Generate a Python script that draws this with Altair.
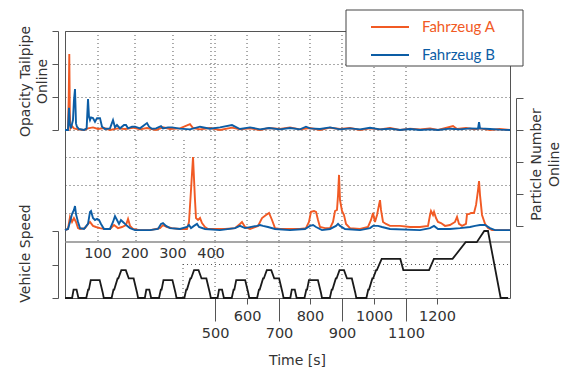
import altair as alt
import pandas as pd

ORANGE = "#f15a24"
BLUE = "#0c5da5"
series_names = ["Fahrzeug A", "Fahrzeug B"]

# ---- time axis labels (as printed in the reference) ----
upper_tick_labels = ["100", "200", "300", "400"]
upper_tick_t = [88.5, 187.7, 289.5, 391.4]
lower_tick_labels = ["500", "600", "700", "800", "900", "1000", "1100", "1200"]
lower_tick_t = [402.2, 488.0, 573.7, 656.8, 742.6, 828.4, 914.2, 997.3]
speed_grid_start_t = [316.4]
mid_grid_extra_t = [88.5, 190.4, 319.0]

opacity_ticks = [0, 1, 2, 3]
particle_grid = [1, 2, 3]
particle_axis_ticks = [0, 1, 2, 3, 4]
speed_ticks = [0, 60, 120]
speed_grid_level = [60]

# ---- vehicle speed [km/h] ----
speed_t = [0, 19, 23, 31, 36, 57, 62, 64, 69, 93, 101, 104, 125, 130, 132, 141, 143, 151, 163, 171, 184, 193, 196,
           214, 218, 226, 231, 252, 257, 259, 264, 288, 296, 299, 320, 325, 327, 336, 338, 346, 358, 366, 379, 388, 391,
           409, 413, 421, 426, 447, 452, 454, 459, 483, 491, 494, 515, 520, 522, 531, 533, 541, 553, 561, 574, 583, 586,
           604, 608, 616, 621, 642, 647, 649, 654, 678, 686, 689, 710, 715, 717, 726, 728, 736, 748, 756, 769, 778, 781,
           808, 813, 815, 824, 826, 834, 836, 849, 899, 907, 976, 989, 1039, 1074, 1104, 1124, 1134, 1168, 1188]
speed_v = [0, 0, 15, 15, 0, 0, 15, 15, 32, 32, 10, 0, 0, 15, 15, 35, 35, 50, 50, 35, 35, 10, 0,
           0, 15, 15, 0, 0, 15, 15, 32, 32, 10, 0, 0, 15, 15, 35, 35, 50, 50, 35, 35, 10, 0,
           0, 15, 15, 0, 0, 15, 15, 32, 32, 10, 0, 0, 15, 15, 35, 35, 50, 50, 35, 35, 10, 0,
           0, 15, 15, 0, 0, 15, 15, 32, 32, 10, 0, 0, 15, 15, 35, 35, 50, 50, 35, 35, 10, 0,
           0, 15, 15, 35, 35, 50, 50, 70, 70, 50, 50, 70, 70, 100, 100, 120, 120, 0, 0]

# ---- opacity tailpipe online ----
opa_a_t = [0, 8, 10, 11.5, 13, 14.5, 18.8, 24, 34.9, 51, 61.7, 75, 88.5, 104.6, 120.6, 142, 160.9, 182.3, 201, 219.8,
           244, 262.7, 281.5, 308.3, 335, 343.2, 362, 388.7, 415.5, 447.7, 469, 496, 522.8, 547, 576.4, 603.2, 630,
           656.8, 683.6, 710.5, 737.3, 764, 791, 817.7, 844.5, 871.3, 898, 925, 951.8, 978.6, 1000, 1040.2, 1051,
           1075, 1099.2, 1112.6, 1139.4, 1166, 1193]
opa_a_v = [0, 0, 1.0, 2.3, 0.5, 0.05, 0.12, 0.05, 0.02, 0.0, 0.05, 0.08, 0.03, 0.06, 0.0, 0.05, 0.03, 0.07, 0.02, 0.06,
           0.0, 0.08, 0.03, 0.05, 0.18, 0.06, 0.02, 0.06, 0.0, 0.07, 0.02, 0.05, 0.0, 0.06, 0.03, 0.08, 0.02,
           0.06, 0.0, 0.07, 0.03, 0.06, 0.0, 0.05, 0.02, 0.06, 0.0, 0.04, 0.02, 0.05, 0.0, 0.12, 0.03,
           0.06, 0.02, 0.05, 0.0, 0.03, 0.0]
opa_b_t = [0, 8, 10.7, 12.5, 16, 21.4, 24, 26.8, 29.5, 32, 37.5, 51, 58, 61.7, 64.3, 67, 69.7, 75, 80.4, 85.8, 93.8,
           99.2, 107, 120.6, 128.7, 134, 139.4, 147.5, 158.2, 163.5, 169, 179.6, 187.7, 201, 219.8, 225.2, 233.2,
           244, 257.4, 262.7, 276, 286.9, 308.3, 335, 362, 388.7, 415.5, 447.7, 469, 496, 522.8, 547, 576.4,
           603.2, 630, 646, 656.8, 683.6, 710.5, 737.3, 764, 791, 817.7, 844.5, 871.3, 898, 925, 951.8, 978.6,
           1000, 1032, 1059, 1085.8, 1107.3, 1110, 1112.6, 1139.4, 1166, 1193]
opa_b_v = [0, 0, 0.67, 0.2, 0.05, 0.3, 0.9, 1.24, 0.2, 0.1, 0.03, 0.0, 0.05, 0.94, 0.4, 0.3, 0.38, 0.36, 0.25, 0.36, 0.36,
           0.1, 0.03, 0.05, 0.3, 0.08, 0.15, 0.05, 0.15, 0.15, 0.05, 0.1, 0.1, 0.05, 0.21, 0.1, 0.04,
           0.05, 0.12, 0.05, 0.08, 0.08, 0.04, 0.02, 0.1, 0.04, 0.08, 0.15, 0.03, 0.08, 0.02, 0.06, 0.02,
           0.06, 0.02, 0.1, 0.05, 0.03, 0.08, 0.02, 0.05, 0.02, 0.07, 0.02, 0.04, 0.0, 0.03, 0.0, 0.02,
           0.0, 0.04, 0.02, 0.05, 0.04, 0.24, 0.05, 0.03, 0.01, 0.0]

# ---- particle number online ----
pn_a_t = [0, 8, 13.4, 18.8, 24, 29.5, 34.9, 40.2, 53.6, 61.7, 67, 75, 83, 93.8, 107, 120.6, 131.4, 142, 152.8, 163.5,
          169, 174.3, 182.3, 201, 227.9, 254.7, 262.7, 273.5, 286.9, 308.3, 327, 332.4, 337.8, 343.2, 348.5, 351.2,
          356.6, 362, 367.3, 375.3, 383.4, 402, 429, 455.8, 469, 474.5, 482.6, 496, 517.5, 528.2, 539, 547, 555,
          563, 576.4, 603.2, 630, 646, 654, 659.5, 667.6, 673, 678.3, 683.6, 697, 710.5, 718.5, 723.9, 729.2, 732,
          734.6, 737.3, 742.6, 748, 753.4, 764, 791, 812.3, 820.4, 825.7, 831, 836.5, 841.8, 844.5, 847.2, 852.6,
          860.6, 871.3, 898, 925, 951.8, 973.2, 978.6, 981.2, 986.6, 989.3, 994.6, 1000, 1008, 1018.8, 1032,
          1045.6, 1051, 1056.3, 1064.4, 1075, 1077.8, 1083, 1088.5, 1096.5, 1102, 1107.3, 1110, 1112.6, 1118, 1126,
          1134, 1144.8, 1166, 1193]
pn_a_v = [0.39, 0.43, 0.86, 0.68, 0.82, 0.68, 0.46, 0.43, 0.46, 0.61, 0.68, 0.54, 0.5, 0.46, 0.43, 0.43, 0.57, 0.46,
          0.5, 0.57, 0.79, 0.54, 0.43, 0.39, 0.39, 0.46, 0.57, 0.5, 0.46, 0.43, 0.43, 0.68, 1.82, 3.0, 1.46, 0.82,
          0.75, 0.82, 0.64, 0.5, 0.43, 0.43, 0.43, 0.46, 0.61, 0.68, 0.5, 0.43, 0.54, 0.82, 0.93, 1.0, 0.75,
          0.46, 0.43, 0.43, 0.43, 0.46, 0.68, 1.04, 1.07, 1.04, 0.75, 0.5, 0.46, 0.46, 0.68, 1.07, 1.11, 1.64,
          2.36, 1.46, 1.07, 0.93, 0.61, 0.46, 0.43, 0.5, 0.75, 1.0, 0.68, 0.93, 1.29, 1.46, 1.11, 0.68,
          0.61, 0.54, 0.54, 0.5, 0.5, 0.54, 0.93, 1.07, 0.93, 1.04, 0.82, 0.68, 0.64, 0.54, 0.57,
          0.68, 0.86, 0.61, 0.54, 0.61, 0.96, 0.96, 1.0, 1.0, 1.29, 1.82, 2.14, 1.64, 0.93, 0.61,
          0.46, 0.39, 0.39, 0.39]
pn_b_t = [0, 8, 13.4, 18.8, 24, 26.8, 29.5, 34.9, 40.2, 51, 61.7, 67, 69.7, 75, 80.4, 85.8, 91.2, 96.5, 104.6, 120.6,
          128.7, 134, 139.4, 144.8, 150, 155.5, 160.9, 166.2, 174.3, 187.7, 227.9, 249.3, 257.4, 262.7, 270.8,
          281.5, 308.3, 327, 332.4, 337.8, 345.8, 353.9, 359.3, 375.3, 415.5, 455.8, 469, 482.6, 514.8, 522.8,
          530.8, 544.2, 563, 603.2, 643.4, 656.8, 665, 673, 689, 710.5, 726.6, 732, 737.3, 750.7, 791, 817.7,
          825.7, 839, 850, 871.3, 951.8, 978.6, 989.3, 1000, 1032, 1059, 1085.8, 1099.2, 1112.6, 1126, 1139.4,
          1152.8, 1193]
pn_b_v = [0.39, 0.43, 0.68, 0.96, 1.11, 1.25, 0.96, 0.68, 0.46, 0.43, 0.61, 1.04, 1.07, 0.82, 0.75, 0.79, 0.75, 0.61,
          0.43, 0.43, 0.68, 0.89, 0.75, 0.61, 0.75, 0.68, 0.61, 0.54, 0.46, 0.39, 0.39, 0.43, 0.61, 0.64, 0.54,
          0.46, 0.43, 0.5, 0.57, 0.46, 0.54, 0.61, 0.5, 0.43, 0.39, 0.46, 0.54, 0.46, 0.54, 0.57,
          0.54, 0.5, 0.43, 0.39, 0.43, 0.54, 0.57, 0.5, 0.39, 0.43, 0.54, 0.61, 0.54, 0.43, 0.39, 0.46,
          0.54, 0.54, 0.5, 0.43, 0.39, 0.46, 0.54, 0.43, 0.43, 0.46, 0.5, 0.54, 0.57, 0.57, 0.46,
          0.39, 0.39]

# ---- tables ----
opa_df = pd.concat([
    pd.DataFrame({"t": opa_a_t, "v": opa_a_v, "series": series_names[0]}),
    pd.DataFrame({"t": opa_b_t, "v": opa_b_v, "series": series_names[1]}),
])
pn_a_df = pd.DataFrame({"t": pn_a_t, "v": pn_a_v})
pn_b_df = pd.DataFrame({"t": pn_b_t, "v": pn_b_v})
speed_df = pd.DataFrame({"t": speed_t, "v": speed_v})
upper_df = pd.DataFrame({"t": upper_tick_t, "label": upper_tick_labels})
top_grid_df = pd.DataFrame({"t": upper_tick_t + lower_tick_t[:-1]})
mid_grid_df = pd.DataFrame({"t": mid_grid_extra_t + lower_tick_t[:-1]})
speed_vgrid_df = pd.DataFrame({"t": lower_tick_t})
speed_vgrid0_df = pd.DataFrame({"t": speed_grid_start_t})
speed_hgrid_df = pd.DataFrame({"t": speed_grid_start_t, "v": speed_grid_level})
right_axis_df = pd.DataFrame({"v": particle_axis_ticks})
one_df = pd.DataFrame({"a": [0]})

short_t = lower_tick_t[1::2]
short_l = lower_tick_labels[1::2]
long_t = lower_tick_t[0::2]
long_l = lower_tick_labels[0::2]


def label_expr(ts, ls):
    return " : ".join(f"abs(datum.value - {t}) < 0.5 ? '{l}'" for t, l in zip(ts, ls)) + " : ''"


W, H = 445, 267
xs = alt.Scale(domain=[0, 1193], nice=False, zero=False)


def ys(domain, rng):
    return alt.Scale(domain=domain, range=rng, nice=False, zero=False)


OP_S = ys([0, 3], [99, 0])
PN_S = ys([0, 4], [210, 98])
PNAX_S = ys([0, 4], [195, 67])
SP_S = ys([0, 120], [267, 200])

GRID = dict(strokeDash=[1, 3], color="#555", strokeWidth=1)
FONT = "DejaVu Sans"
TXT = "#333333"
LW = 1.9

top_grid = alt.Chart(top_grid_df).mark_rule(**GRID).encode(
    x=alt.X("t:Q", scale=xs, axis=None), y=alt.value(0), y2=alt.value(109))
mid_grid = alt.Chart(mid_grid_df).mark_rule(**GRID).encode(
    x=alt.X("t:Q", scale=xs, axis=None), y=alt.value(109), y2=alt.value(211))
speed_vgrid = alt.Chart(speed_vgrid_df).mark_rule(**GRID).encode(
    x=alt.X("t:Q", scale=xs, axis=alt.Axis(
        values=short_t, labelExpr=label_expr(short_t, short_l), tickSize=6, labelPadding=5,
        domain=False, grid=False, title=None, orient="bottom")),
    y=alt.value(211), y2=alt.value(267))
speed_vgrid0 = alt.Chart(speed_vgrid0_df).mark_rule(**GRID).encode(
    x=alt.X("t:Q", scale=xs, axis=None), y=alt.value(233), y2=alt.value(267))
speed_hgrid = alt.Chart(speed_hgrid_df).mark_rule(**GRID).encode(
    x=alt.X("t:Q", scale=xs, axis=None), x2=alt.value(W),
    y=alt.Y("v:Q", scale=SP_S, axis=None))

sep_line = alt.Chart(one_df).mark_rule(color="#8a8a8a", strokeWidth=1.6).encode(
    x=alt.value(0), x2=alt.value(W), y=alt.value(211))

upper_labels = alt.Chart(upper_df).mark_text(
    font=FONT, fontSize=14.5, color=TXT, baseline="middle", align="center").encode(
    x=alt.X("t:Q", scale=xs, axis=None), y=alt.value(223), text="label:N")

opa = alt.Chart(opa_df).mark_line(strokeWidth=LW).encode(
    x=alt.X("t:Q", scale=xs, axis=None),
    y=alt.Y("v:Q", scale=OP_S, axis=alt.Axis(
        orient="left", offset=7, values=opacity_ticks, labels=False, tickSize=6,
        grid=True, gridDash=[1, 3], gridColor="#555",
        title=["Opacity Tailpipe", "Online"], titleAngle=270, titleX=-33, titleY=50,
        titleBaseline="middle", titleLineHeight=17)),
    color=alt.Color("series:N", scale=alt.Scale(domain=series_names, range=[ORANGE, BLUE]),
                    legend=alt.Legend(
                        orient="none", legendX=305, legendY=-24, title=None,
                        symbolType="stroke", symbolSize=1444, symbolStrokeWidth=2,
                        labelFont="Lato", labelFontSize=15, labelOffset=12, rowPadding=-14, padding=0,
                        labelColor=alt.ExprRef(
                            f"datum.value == '{series_names[0]}' ? '{ORANGE}' : '{BLUE}'"))),
)

pn_a = alt.Chart(pn_a_df).mark_line(strokeWidth=LW, color=ORANGE).encode(
    x=alt.X("t:Q", scale=xs, axis=None),
    y=alt.Y("v:Q", scale=PN_S, axis=alt.Axis(
        orient="left", values=particle_grid, domain=False, ticks=False, labels=False,
        grid=True, gridDash=[1, 3], gridColor="#555", title=None)))
pn_b = alt.Chart(pn_b_df).mark_line(strokeWidth=LW, color=BLUE).encode(
    x=alt.X("t:Q", scale=xs, axis=None),
    y=alt.Y("v:Q", scale=PN_S, axis=None))

right_axis = alt.Chart(right_axis_df).mark_point(opacity=0).encode(
    y=alt.Y("v:Q", scale=PNAX_S, axis=alt.Axis(
        orient="right", offset=6, values=particle_axis_ticks, labels=False, tickSize=7, grid=False,
        title=["Particle Number", "Online"], titleAngle=270, titleX=20, titleY=133,
        titleBaseline="middle", titleLineHeight=18)))

legend_box = alt.Chart(one_df).mark_rect(fill="white", stroke="#444", strokeWidth=1).encode(
    x=alt.value(281), x2=alt.value(458), y=alt.value(-21), y2=alt.value(35))

speed = alt.Chart(speed_df).mark_line(strokeWidth=1.8, color="#1a1a1a").encode(
    x=alt.X("t:Q", scale=xs, axis=alt.Axis(
        values=long_t, labelExpr=label_expr(long_t, long_l), tickSize=23, labelPadding=5,
        domain=False, grid=False, orient="bottom", title="Time [s]", titleX=232, titleY=62,
        titleBaseline="middle")),
    y=alt.Y("v:Q", scale=SP_S, axis=alt.Axis(
        orient="left", offset=7, values=speed_ticks, labels=False, tickSize=6, grid=False,
        title="Vehicle Speed", titleAngle=270, titleX=-33, titleY=222, titleBaseline="middle")))

chart = alt.layer(
    top_grid, mid_grid, speed_vgrid, speed_vgrid0, speed_hgrid, sep_line, upper_labels,
    opa, pn_a, pn_b, right_axis, legend_box, speed,
).resolve_scale(y="independent").resolve_axis(x="independent").properties(
    width=W, height=H, autosize="none",
    padding={"left": 65, "top": 31, "right": 51, "bottom": 71},
).configure_view(stroke="#555", strokeWidth=1).configure_axis(
    labelFont=FONT, labelFontSize=14.5, labelColor=TXT,
    titleFont=FONT, titleFontSize=14, titleFontWeight="normal", titleColor=TXT,
    domainColor="#555", tickColor="#555", domainWidth=1, tickWidth=1,
)

chart.save("out.html", embed_options={"renderer": "svg", "actions": False})
